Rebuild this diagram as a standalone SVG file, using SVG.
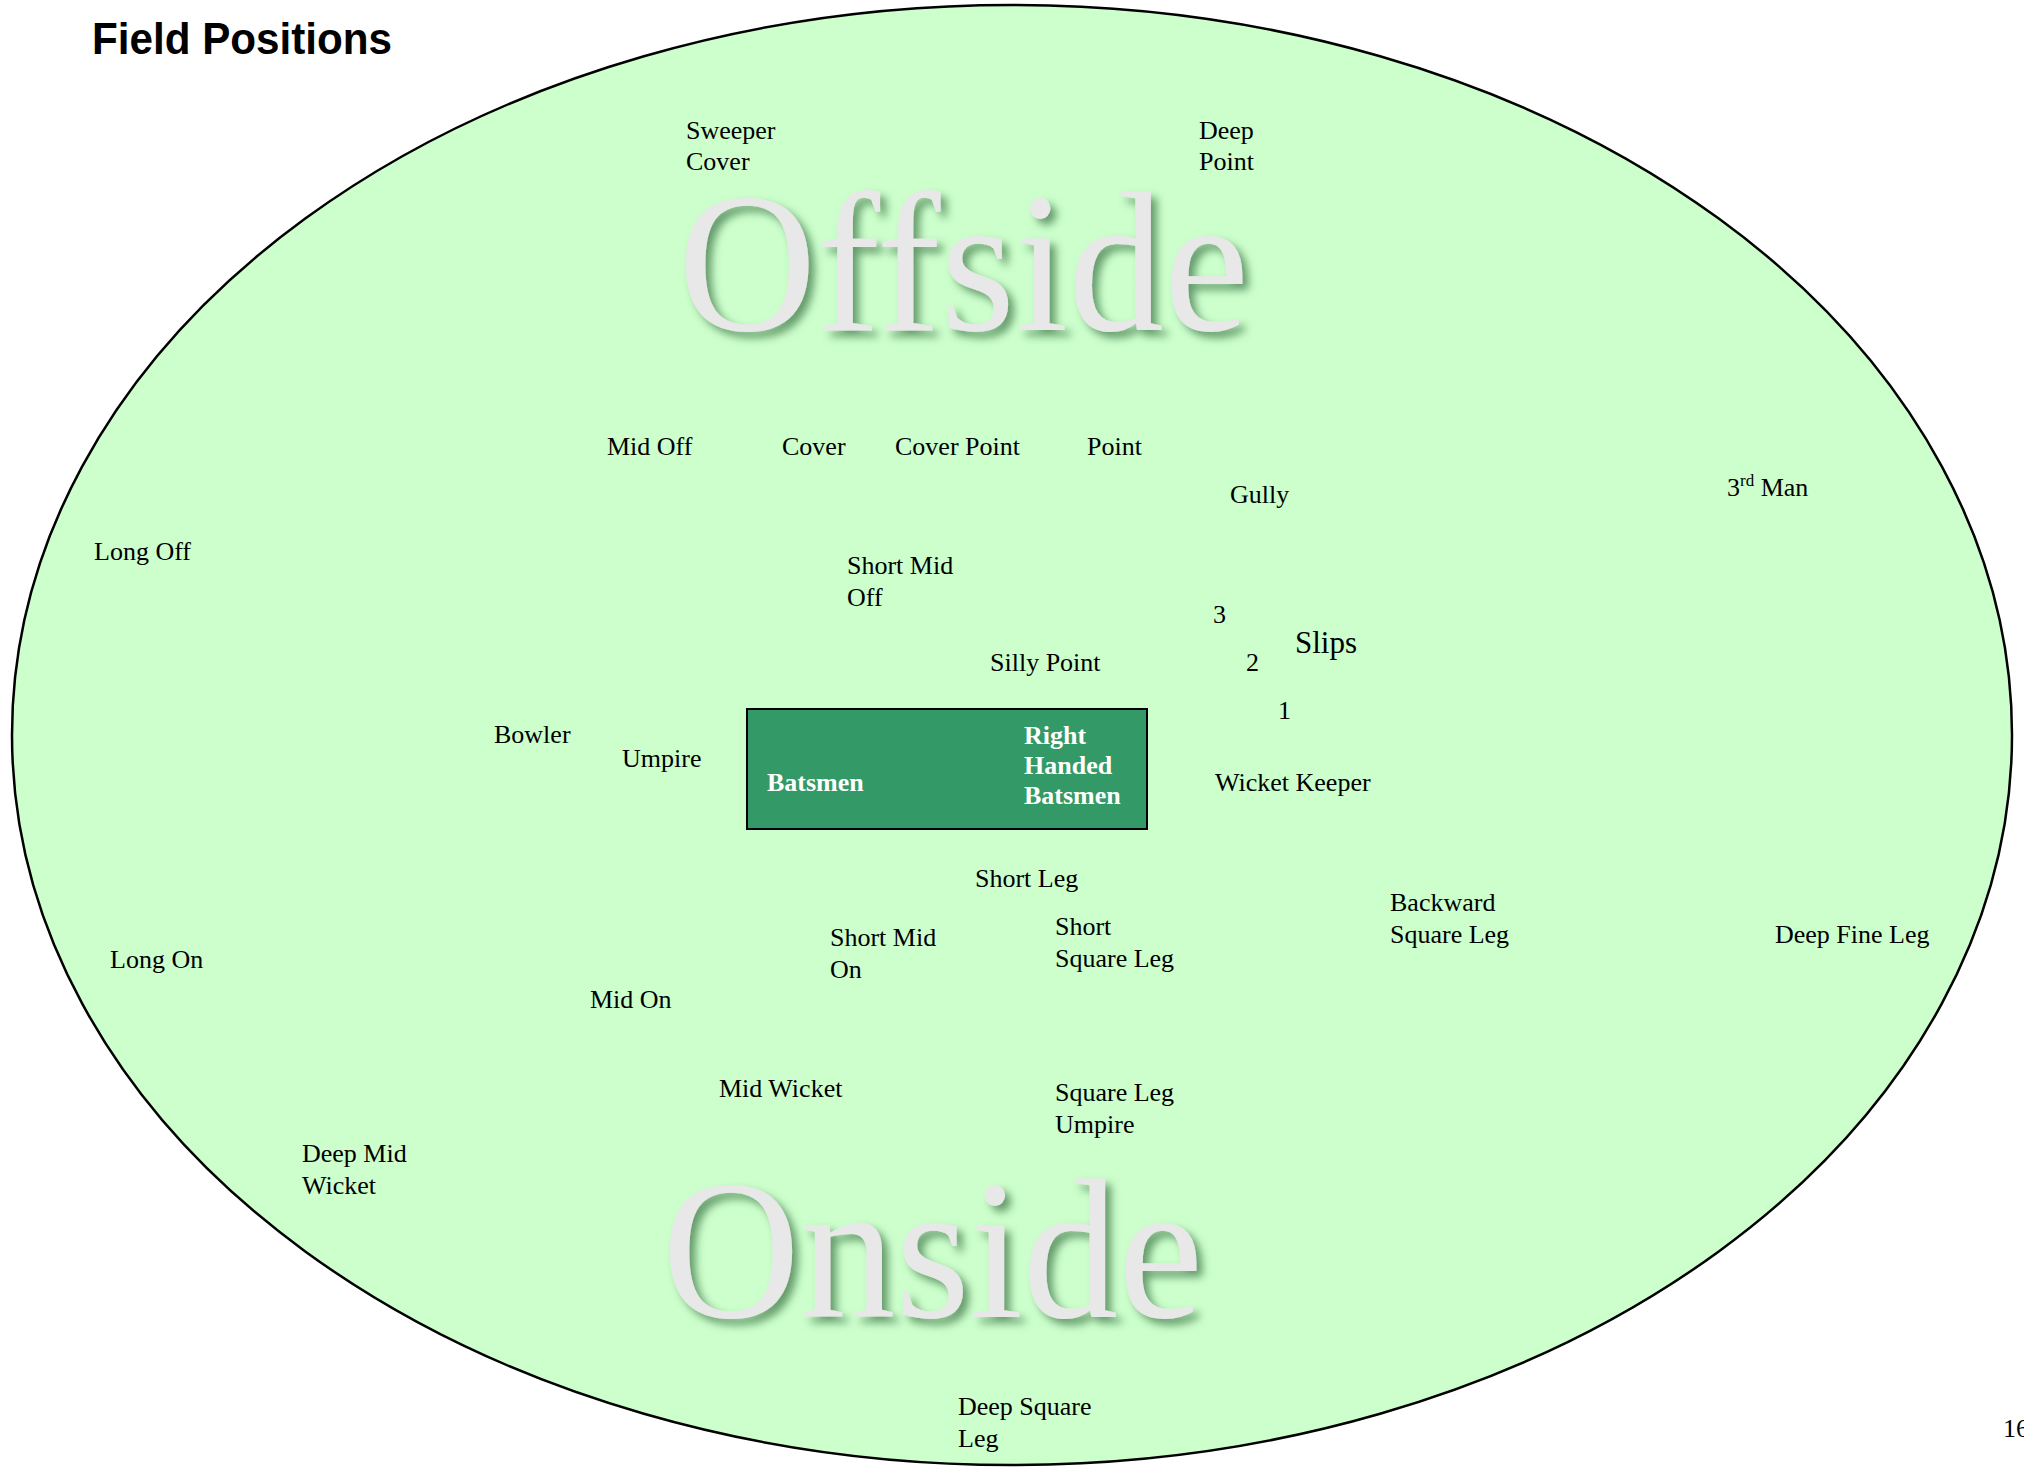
<svg xmlns="http://www.w3.org/2000/svg" width="2024" height="1467" viewBox="0 0 2024 1467">
<style>
.lbl{font-family:"Liberation Serif","Times New Roman",serif;font-size:26px;fill:#000}
.box{font-family:"Liberation Serif","Times New Roman",serif;font-size:26px;font-weight:bold;fill:#fff}
.big{font-family:"Liberation Serif","Times New Roman",serif;font-size:200px;fill:#e8e8e8}
.title{font-family:"Liberation Sans",Arial,sans-serif;font-weight:bold;font-size:44px;fill:#000}
</style>
<defs>
<filter id="sh" x="-10%" y="-10%" width="130%" height="140%">
<feDropShadow dx="6" dy="6" stdDeviation="4" flood-color="#3f7a4a" flood-opacity="0.75"/>
</filter>
</defs>
<rect width="2024" height="1467" fill="#fff"/>
<text class="title" x="92" y="54" textLength="300" lengthAdjust="spacingAndGlyphs">Field Positions</text>
<g id="field"><ellipse cx="1012" cy="735" rx="1000" ry="730" fill="#ccffcc" stroke="#000" stroke-width="2.5"/></g>
<g id="sides">
<text class="big" x="678" y="330" textLength="571" lengthAdjust="spacingAndGlyphs" filter="url(#sh)">Offside</text>
<text class="big" x="662" y="1317" textLength="541" lengthAdjust="spacingAndGlyphs" filter="url(#sh)">Onside</text>
</g>
<g id="pitch">
<rect x="747" y="709" width="400" height="120" fill="#339966" stroke="#000" stroke-width="2"/>
<text class="box" x="767" y="791">Batsmen</text>
<text class="box" x="1024" y="744"><tspan x="1024">Right</tspan><tspan x="1024" dy="30">Handed</tspan><tspan x="1024" dy="30">Batsmen</tspan></text>
</g>
<g id="connectors"></g>
<g id="sweeper-cover"><text class="lbl" x="686" y="139"><tspan x="686">Sweeper</tspan><tspan x="686" dy="31">Cover</tspan></text></g>
<g id="deep-point"><text class="lbl" x="1199" y="139"><tspan x="1199">Deep</tspan><tspan x="1199" dy="31">Point</tspan></text></g>
<g id="mid-off"><text class="lbl" x="607" y="455">Mid Off</text></g>
<g id="cover"><text class="lbl" x="782" y="455">Cover</text></g>
<g id="cover-point"><text class="lbl" x="895" y="455">Cover Point</text></g>
<g id="point"><text class="lbl" x="1087" y="455">Point</text></g>
<g id="gully"><text class="lbl" x="1230" y="503">Gully</text></g>
<g id="third-man"><text class="lbl" x="1727" y="496">3<tspan font-size="17" dy="-10">rd</tspan><tspan dy="10"> Man</tspan></text></g>
<g id="long-off"><text class="lbl" x="94" y="560">Long Off</text></g>
<g id="short-mid-off"><text class="lbl" x="847" y="574"><tspan x="847">Short Mid</tspan><tspan x="847" dy="32">Off</tspan></text></g>
<g id="slip3"><text class="lbl" x="1213" y="623">3</text></g>
<g id="slips"><text class="lbl" x="1295" y="653" style="font-size:31px">Slips</text></g>
<g id="slip2"><text class="lbl" x="1246" y="671">2</text></g>
<g id="silly-point"><text class="lbl" x="990" y="671">Silly Point</text></g>
<g id="slip1"><text class="lbl" x="1278" y="719">1</text></g>
<g id="bowler"><text class="lbl" x="494" y="743">Bowler</text></g>
<g id="umpire"><text class="lbl" x="622" y="767">Umpire</text></g>
<g id="wicket-keeper"><text class="lbl" x="1215" y="791">Wicket Keeper</text></g>
<g id="short-leg"><text class="lbl" x="975" y="887">Short Leg</text></g>
<g id="backward-square-leg"><text class="lbl" x="1390" y="911"><tspan x="1390">Backward</tspan><tspan x="1390" dy="32">Square Leg</tspan></text></g>
<g id="deep-fine-leg"><text class="lbl" x="1775" y="943">Deep Fine Leg</text></g>
<g id="short-square-leg"><text class="lbl" x="1055" y="935"><tspan x="1055">Short</tspan><tspan x="1055" dy="32">Square Leg</tspan></text></g>
<g id="short-mid-on"><text class="lbl" x="830" y="946"><tspan x="830">Short Mid</tspan><tspan x="830" dy="32">On</tspan></text></g>
<g id="long-on"><text class="lbl" x="110" y="968">Long On</text></g>
<g id="mid-on"><text class="lbl" x="590" y="1008">Mid On</text></g>
<g id="mid-wicket"><text class="lbl" x="719" y="1097">Mid Wicket</text></g>
<g id="square-leg-umpire"><text class="lbl" x="1055" y="1101"><tspan x="1055">Square Leg</tspan><tspan x="1055" dy="32">Umpire</tspan></text></g>
<g id="deep-mid-wicket"><text class="lbl" x="302" y="1162"><tspan x="302">Deep Mid</tspan><tspan x="302" dy="32">Wicket</tspan></text></g>
<g id="deep-square-leg"><text class="lbl" x="958" y="1415"><tspan x="958">Deep Square</tspan><tspan x="958" dy="32">Leg</tspan></text></g>
<g id="page"><text class="lbl" x="2003" y="1437">16</text></g>
</svg>
